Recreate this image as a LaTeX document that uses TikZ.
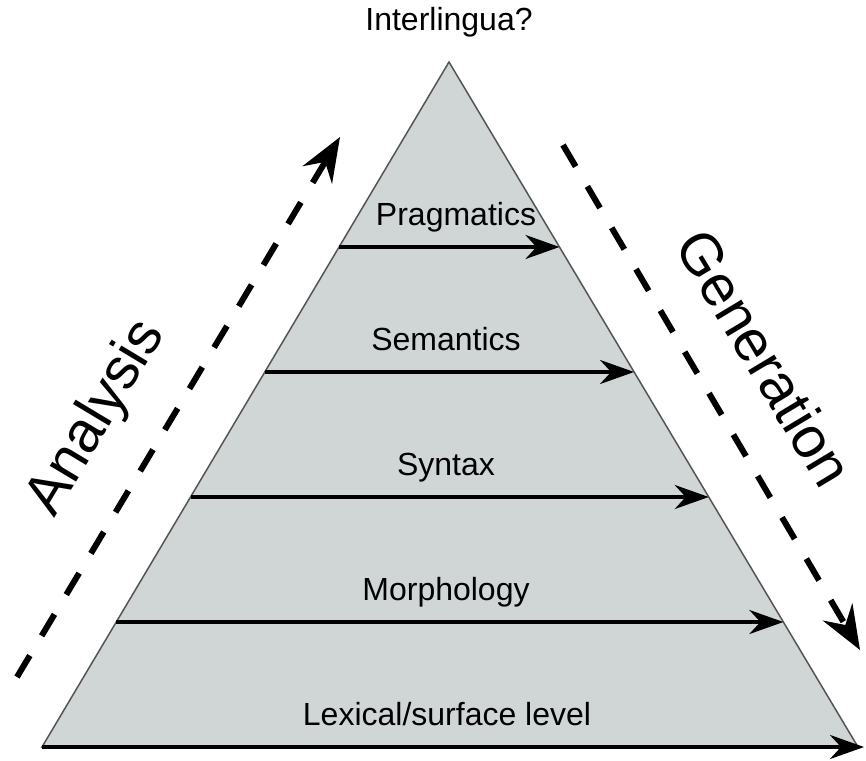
\documentclass[tikz,border=0pt]{standalone}
\usepackage{fontspec}
\setmainfont{Liberation Sans}
\usetikzlibrary{arrows.meta,calc}
\definecolor{layerfill}{RGB}{208,213,214}
\definecolor{edgegray}{RGB}{85,85,85}
\begin{document}
\begin{tikzpicture}[x=1pt,y=-1pt,
  layerarrow/.style={line width=3.5pt,-{Stealth[length=34pt,width=24pt,inset=11pt]}},
  flowarrow/.style={line width=6pt,dash pattern=on 25pt off 23pt,-{Stealth[length=44pt,width=34pt,inset=15pt]}},
  layerlabel/.style={anchor=base,inner sep=0pt,font=\fontsize{32}{36}\selectfont},
  sidelabel/.style={inner sep=0pt,font=\fontsize{58}{64}\selectfont}]
\useasboundingbox (0,0) rectangle (866,760);

% pyramid outline
\coordinate (apex) at (449,62);
\coordinate (bl) at (42,747);
\coordinate (br) at (858,747);
\draw[edgegray,line width=1.5pt,fill=layerfill,line join=miter] (apex) -- (br) -- (bl) -- cycle;

% end points of the level arrows on the two sides of the pyramid
\foreach \n/\t in {prag/0.27007,sem/0.45255,syn/0.63504,mor/0.81752}{
  \coordinate (\n L) at ($(apex)!\t!(bl)$);
  \coordinate (\n R) at ($(apex)!\t!(br)$);
}
\coordinate (lexL) at (42,747);
\coordinate (lexR) at (864,747);

% level arrows
\draw[layerarrow] (pragL) -- (pragR);
\draw[layerarrow] (semL) -- (semR);
\draw[layerarrow] (synL) -- (synR);
\draw[layerarrow] (morL) -- (morR);
\draw[layerarrow] (lexL) -- (lexR);

% level labels
\node[layerlabel] (interlingua) at (449,31) {Interlingua?};
\node[layerlabel] (pragmatics) at (456,225) {Pragmatics};
\node[layerlabel] (semantics) at (446,350) {Semantics};
\node[layerlabel] (syntax) at (446,475) {Syntax};
\node[layerlabel] (morphology) at (446,600) {Morphology};
\node[layerlabel] (lexical) at (447,725) {Lexical/surface level};

% analysis and generation directions
\coordinate (anaStart) at (17,677);
\coordinate (anaEnd) at (340,137);
\coordinate (genStart) at (563,145);
\coordinate (genEnd) at (860,650);
\draw[flowarrow] (anaStart) -- (anaEnd);
\draw[flowarrow] (genStart) -- (genEnd);
\node[sidelabel,rotate=59] (analysis) at (97,418) {Analysis};
\node[sidelabel,rotate=-59] (generation) at (765,358) {Generation};
\end{tikzpicture}
\end{document}
